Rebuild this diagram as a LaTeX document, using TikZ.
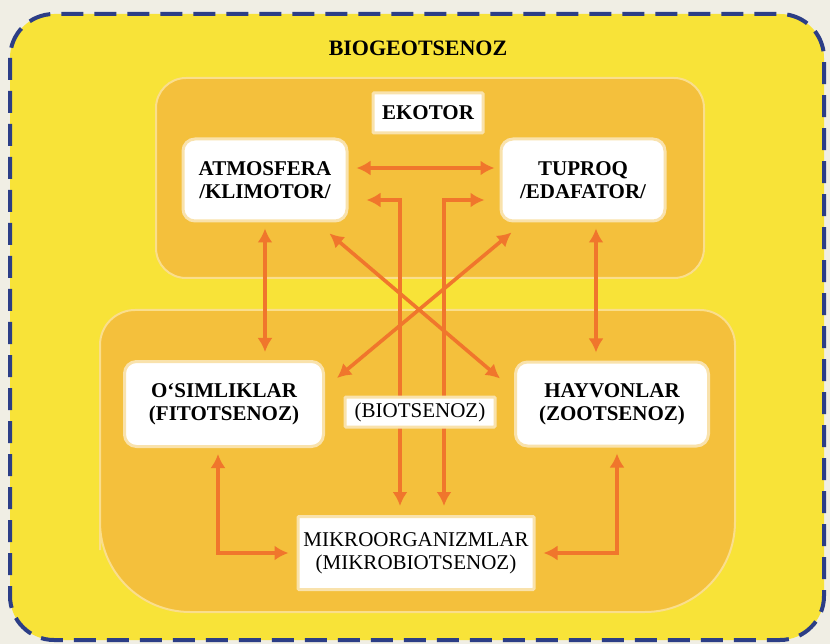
\documentclass[tikz,border=0pt]{standalone}
\usepackage{fontspec}
\setmainfont{Liberation Serif}
\usetikzlibrary{arrows.meta,positioning,calc}
\definecolor{PageGrey}{RGB}{240,238,228}
\definecolor{SheetYellow}{RGB}{248,227,56}
\definecolor{ZoneOrange}{RGB}{244,192,60}
\definecolor{ZoneEdge}{RGB}{250,222,140}
\definecolor{CellEdge}{RGB}{249,226,172}
\definecolor{LinkOrange}{RGB}{240,118,44}
\definecolor{DashNavy}{RGB}{44,62,134}
\pgfdeclarelayer{bg}
\pgfdeclarelayer{mid}
\pgfsetlayers{bg,mid,main}

\begin{document}
\begin{tikzpicture}[
  x=1pt,y=-1pt,
  zone/.style={fill=ZoneOrange,draw=ZoneEdge,line width=2pt},
  cell/.style={
    draw=CellEdge,line width=3pt,fill=white,align=center,
    rounded corners=12pt,inner sep=2pt,
    font=\fontsize{21}{23}\selectfont\bfseries
  },
  plain/.style={cell,rounded corners=1pt,font=\fontsize{21}{23}\selectfont},
  link/.style={
    {Latex[length=14pt,width=15pt]}-{Latex[length=14pt,width=15pt]},
    line width=3.6pt,LinkOrange,shorten <=6pt,shorten >=8pt
  }
]
  \useasboundingbox (0,0) rectangle (830,644);
  % sheet and the two zones
  \begin{pgfonlayer}{bg}
    \fill[PageGrey] (0,0) rectangle (830,644);
    \draw[fill=SheetYellow,draw=DashNavy,line width=4pt,
      dash pattern=on 22pt off 11pt,rounded corners=44pt]
      (10,14) rectangle (824,640);
    \draw[zone,rounded corners=30pt] (156,78) rectangle (704,278);
    \draw[zone] (100,460) [rounded corners=35pt] -- (100,310) -- (735,310)
      -- (735,460) [rounded corners=90pt] -- (735,612) -- (100,612) -- cycle;
  \end{pgfonlayer}

  \node[font=\fontsize{22}{24}\selectfont\bfseries] (title) at (418,48) {BIOGEOTSENOZ};
  \node[plain,font=\fontsize{21}{23}\selectfont\bfseries,
    minimum width=110pt,minimum height=40pt] (ekotor) at (428,113) {EKOTOR};
  \node[cell,minimum width=164pt,minimum height=82pt] (atmo) at (265,180)
    {ATMOSFERA\\/KLIMOTOR/};
  \node[cell,minimum width=164pt,minimum height=82pt,right=151pt of atmo] (tup)
    {TUPROQ\\/EDAFATOR/};
  \node[cell,minimum width=199pt,minimum height=85pt] (osim) at (224,404)
    {O‘SIMLIKLAR\\(FITOTSENOZ)};
  \node[cell,minimum width=193pt,minimum height=84pt] (hay) at (612,404)
    {HAYVONLAR\\(ZOOTSENOZ)};
  \node[plain,minimum width=150pt,minimum height=30pt] (bio) at (420,412)
    {(BIOTSENOZ)};
  \node[plain,minimum width=236pt,minimum height=73pt] (mikro) at (416,553)
    {MIKROORGANIZMLAR\\(MIKROBIOTSENOZ)};

  % links
  \begin{pgfonlayer}{mid}
    \draw[link,shorten <=4pt,shorten >=4pt]
      ([xshift=4pt,yshift=12pt]atmo.east) -- ([xshift=-1pt,yshift=12pt]tup.west);
    \draw[link,shorten <=0pt,shorten >=9pt]
      ([xshift=18pt,yshift=-20pt]atmo.east) -| ($(bio.center |- mikro.north)+(-20,0)$);
    \draw[link,shorten <=0pt,shorten >=9pt]
      ([xshift=-15pt,yshift=-20pt]tup.west) -| ($(bio.center |- mikro.north)+(24,0)$);
    \draw[link,shorten <=0pt,shorten >=0pt]
      ([xshift=-19pt,yshift=-11pt]atmo.south east) -- ([xshift=-14pt,yshift=-18pt]hay.north west);
    \draw[link,shorten <=0pt,shorten >=0pt]
      ([xshift=12pt,yshift=-10pt]tup.south west) -- ([xshift=12pt,yshift=-18pt]osim.north east);
    \draw[link] (atmo.south) -- (atmo.south |- osim.north);
    \draw[link] ([xshift=13pt]tup.south) -- ($(tup.south |- hay.north)+(13,0)$);
    \draw[link] ([xshift=-6pt]osim.south) |- (mikro.west);
    \draw[link] ([xshift=5pt]hay.south) |- (mikro.east);
  \end{pgfonlayer}
\end{tikzpicture}
\end{document}
